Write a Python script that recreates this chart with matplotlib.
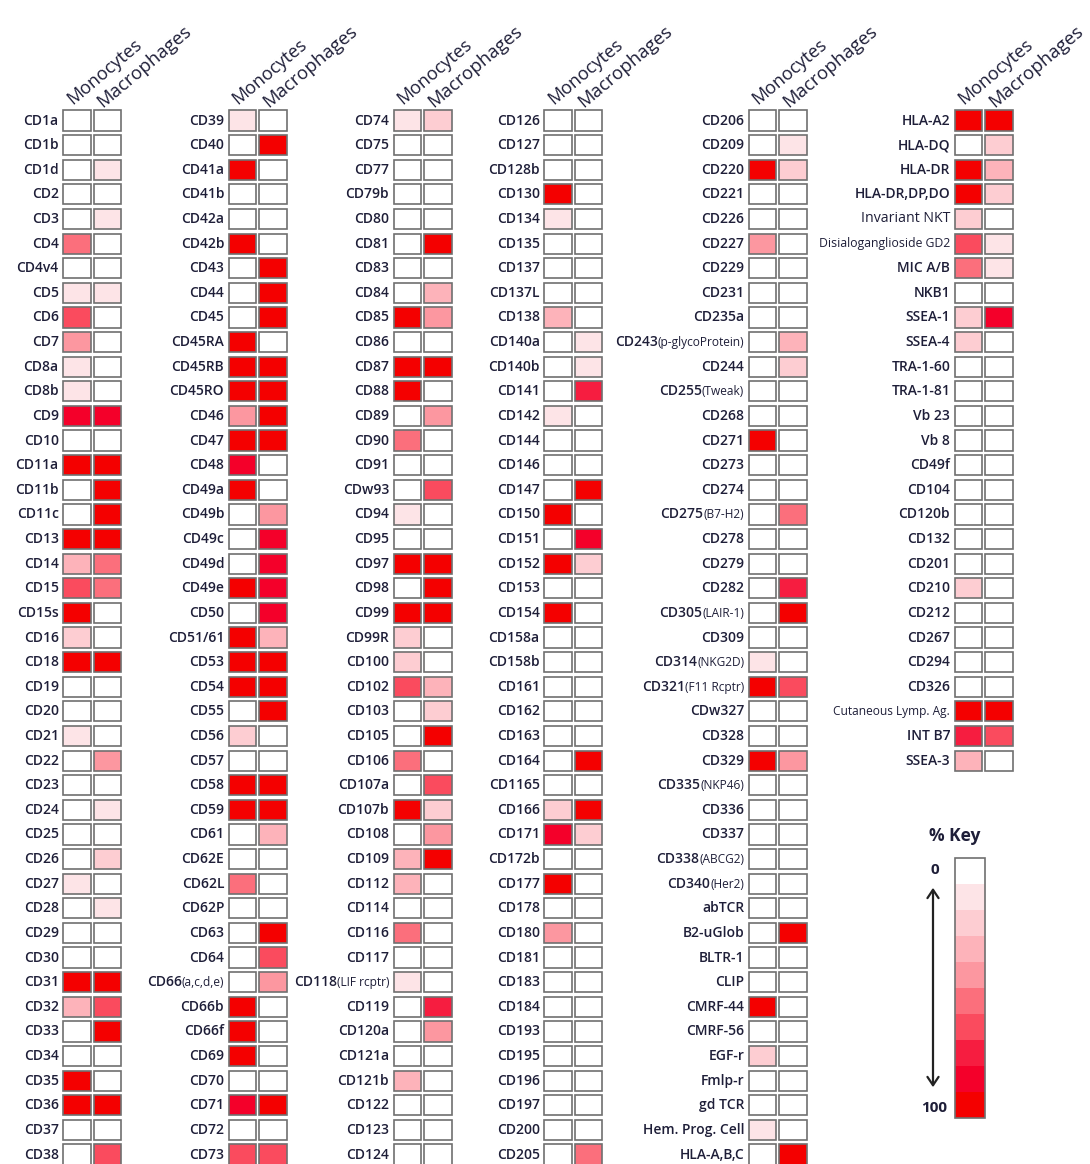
import numpy as np
import matplotlib
matplotlib.use('Agg')
import matplotlib.pyplot as plt
import matplotlib.cm as cm
from matplotlib.colors import ListedColormap, BoundaryNorm
from matplotlib.patches import Rectangle, FancyArrowPatch
from matplotlib.offsetbox import TextArea, HPacker, AnnotationBbox

plt.rcParams['font.family'] = ['Open Sans', 'DejaVu Sans']

# % of cells positive for each marker (Monocytes / Macrophages)
labels_1 = ['CD1a', 'CD1b', 'CD1d', 'CD2', 'CD3', 'CD4', 'CD4v4', 'CD5', 'CD6', 'CD7',
            'CD8a', 'CD8b', 'CD9', 'CD10', 'CD11a', 'CD11b', 'CD11c', 'CD13', 'CD14', 'CD15',
            'CD15s', 'CD16', 'CD18', 'CD19', 'CD20', 'CD21', 'CD22', 'CD23', 'CD24', 'CD25',
            'CD26', 'CD27', 'CD28', 'CD29', 'CD30', 'CD31', 'CD32', 'CD33', 'CD34', 'CD35',
            'CD36', 'CD37', 'CD38']
mono_1 = [0, 0, 0, 0, 0, 50, 0, 10, 60, 40,
          10, 10, 80, 0, 100, 0, 0, 100, 30, 60,
          100, 20, 100, 0, 0, 10, 0, 0, 0, 0,
          0, 10, 0, 0, 0, 100, 30, 0, 0, 100,
          100, 0, 0]
macro_1 = [0, 0, 10, 0, 10, 0, 0, 10, 0, 0,
           0, 0, 80, 0, 100, 100, 100, 100, 50, 50,
           0, 0, 100, 0, 0, 0, 40, 0, 10, 0,
           20, 0, 10, 0, 0, 100, 60, 100, 0, 0,
           100, 0, 60]

labels_2 = ['CD39', 'CD40', 'CD41a', 'CD41b', 'CD42a', 'CD42b', 'CD43', 'CD44', 'CD45', 'CD45RA',
            'CD45RB', 'CD45RO', 'CD46', 'CD47', 'CD48', 'CD49a', 'CD49b', 'CD49c', 'CD49d', 'CD49e',
            'CD50', 'CD51/61', 'CD53', 'CD54', 'CD55', 'CD56', 'CD57', 'CD58', 'CD59', 'CD61',
            'CD62E', 'CD62L', 'CD62P', 'CD63', 'CD64', 'CD66(a,c,d,e)', 'CD66b', 'CD66f', 'CD69', 'CD70',
            'CD71', 'CD72', 'CD73']
mono_2 = [10, 0, 100, 0, 0, 100, 0, 0, 0, 100,
          100, 100, 40, 100, 80, 100, 0, 0, 0, 100,
          0, 100, 100, 100, 0, 20, 0, 100, 100, 0,
          0, 50, 0, 0, 0, 0, 100, 100, 100, 0,
          80, 0, 60]
macro_2 = [0, 100, 0, 0, 0, 0, 100, 100, 100, 0,
           100, 100, 100, 100, 0, 0, 40, 80, 80, 80,
           80, 30, 100, 100, 100, 0, 0, 100, 100, 30,
           0, 0, 0, 100, 60, 40, 0, 0, 0, 0,
           100, 0, 60]

labels_3 = ['CD74', 'CD75', 'CD77', 'CD79b', 'CD80', 'CD81', 'CD83', 'CD84', 'CD85', 'CD86',
            'CD87', 'CD88', 'CD89', 'CD90', 'CD91', 'CDw93', 'CD94', 'CD95', 'CD97', 'CD98',
            'CD99', 'CD99R', 'CD100', 'CD102', 'CD103', 'CD105', 'CD106', 'CD107a', 'CD107b', 'CD108',
            'CD109', 'CD112', 'CD114', 'CD116', 'CD117', 'CD118(LIF rcptr)', 'CD119', 'CD120a', 'CD121a', 'CD121b',
            'CD122', 'CD123', 'CD124']
mono_3 = [10, 0, 0, 0, 0, 0, 0, 0, 100, 0,
          100, 100, 0, 50, 0, 0, 10, 0, 100, 0,
          100, 20, 20, 60, 0, 0, 50, 0, 100, 0,
          30, 30, 0, 50, 0, 10, 0, 0, 0, 30,
          0, 0, 0]
macro_3 = [20, 0, 0, 0, 0, 100, 0, 30, 40, 0,
           100, 0, 40, 0, 0, 60, 0, 0, 100, 100,
           100, 0, 0, 30, 20, 100, 0, 60, 20, 40,
           100, 0, 0, 0, 0, 0, 70, 40, 0, 0,
           0, 0, 0]

labels_4 = ['CD126', 'CD127', 'CD128b', 'CD130', 'CD134', 'CD135', 'CD137', 'CD137L', 'CD138', 'CD140a',
            'CD140b', 'CD141', 'CD142', 'CD144', 'CD146', 'CD147', 'CD150', 'CD151', 'CD152', 'CD153',
            'CD154', 'CD158a', 'CD158b', 'CD161', 'CD162', 'CD163', 'CD164', 'CD1165', 'CD166', 'CD171',
            'CD172b', 'CD177', 'CD178', 'CD180', 'CD181', 'CD183', 'CD184', 'CD193', 'CD195', 'CD196',
            'CD197', 'CD200', 'CD205']
mono_4 = [0, 0, 0, 100, 10, 0, 0, 0, 30, 0,
          0, 0, 10, 0, 0, 0, 100, 0, 100, 0,
          100, 0, 0, 0, 0, 0, 0, 0, 20, 80,
          0, 100, 0, 40, 0, 0, 0, 0, 0, 0,
          0, 0, 0]
macro_4 = [0, 0, 0, 0, 0, 0, 0, 0, 0, 10,
           10, 70, 0, 0, 0, 100, 0, 80, 20, 0,
           0, 0, 0, 0, 0, 0, 100, 0, 100, 20,
           0, 0, 0, 0, 0, 0, 0, 0, 0, 0,
           0, 0, 50]

labels_5 = ['CD206', 'CD209', 'CD220', 'CD221', 'CD226', 'CD227', 'CD229', 'CD231', 'CD235a',
            'CD243(p-glycoProtein)', 'CD244', 'CD255(Tweak)', 'CD268', 'CD271', 'CD273', 'CD274',
            'CD275(B7-H2)', 'CD278', 'CD279', 'CD282', 'CD305(LAIR-1)', 'CD309', 'CD314(NKG2D)',
            'CD321(F11 Rcptr)', 'CDw327', 'CD328', 'CD329', 'CD335(NKP46)', 'CD336', 'CD337',
            'CD338(ABCG2)', 'CD340(Her2)', 'abTCR', 'B2-uGlob', 'BLTR-1', 'CLIP', 'CMRF-44',
            'CMRF-56', 'EGF-r', 'Fmlp-r', 'gd TCR', 'Hem. Prog. Cell', 'HLA-A,B,C']
mono_5 = [0, 0, 100, 0, 0, 40, 0, 0, 0, 0,
          0, 0, 0, 100, 0, 0, 0, 0, 0, 0,
          0, 0, 10, 100, 0, 0, 100, 0, 0, 0,
          0, 0, 0, 0, 0, 0, 100, 0, 20, 0,
          0, 10, 0]
macro_5 = [0, 10, 20, 0, 0, 0, 0, 0, 0, 30,
           20, 0, 0, 0, 0, 0, 50, 0, 0, 70,
           100, 0, 0, 60, 0, 0, 40, 0, 0, 0,
           0, 0, 0, 100, 0, 0, 0, 0, 0, 0,
           0, 0, 100]

labels_6 = ['HLA-A2', 'HLA-DQ', 'HLA-DR', 'HLA-DR,DP,DO', 'Invariant NKT', 'Disialoganglioside GD2',
            'MIC A/B', 'NKB1', 'SSEA-1', 'SSEA-4', 'TRA-1-60', 'TRA-1-81', 'Vb 23', 'Vb 8',
            'CD49f', 'CD104', 'CD120b', 'CD132', 'CD201', 'CD210', 'CD212', 'CD267', 'CD294',
            'CD326', 'Cutaneous Lymp. Ag.', 'INT B7', 'SSEA-3']
mono_6 = [100, 0, 100, 100, 20, 60, 50, 0, 20, 20,
          0, 0, 0, 0, 0, 0, 0, 0, 0, 20,
          0, 0, 0, 0, 100, 70, 30]
macro_6 = [100, 20, 30, 20, 0, 10, 10, 0, 80, 0,
           0, 0, 0, 0, 0, 0, 0, 0, 0, 0,
           0, 0, 0, 0, 100, 60, 0]

# long names set in a lighter, smaller face
small_labels = {'Invariant NKT': 10.2, 'Disialoganglioside GD2': 8.8, 'Cutaneous Lymp. Ag.': 8.6}

key_colors = ['#ffffff', '#fde4e7', '#fdcdd2', '#fdb3ba', '#fc97a0',
              '#fb6f7c', '#fa4b5e', '#f61d40', '#f4002a', '#f40000']
cmap = ListedColormap(key_colors)
norm = BoundaryNorm(np.linspace(0, 100, 11), cmap.N, clip=True)

W, H = 1090, 1164
ROW_H = 24.62
COL_W = 30.5
FIRST_ROW = 120.5
N_ROWS = 43
TXT = '#1e1e38'
FS = 10

fig = plt.figure(figsize=(W / 100, H / 100), dpi=100)


def draw_label(ax, text, row):
    x = -0.6
    if text in small_labels:
        ax.text(x, row, text, ha='right', va='center', fontsize=small_labels[text], color=TXT)
    elif '(' in text:
        # marker name with a smaller bracketed alias
        head, tail = text.split('(', 1)
        box = HPacker(children=[TextArea(head, textprops=dict(fontsize=FS, fontweight='semibold', color=TXT)),
                                TextArea('(' + tail, textprops=dict(fontsize=8.6, color=TXT))],
                      align='baseline', pad=0, sep=0)
        ab = AnnotationBbox(box, (x, row), xycoords='data', box_alignment=(1, 0.5),
                            frameon=False, pad=0, annotation_clip=False)
        ax.add_artist(ab)
    else:
        ax.text(x, row, text, ha='right', va='center', fontsize=FS, fontweight='semibold', color=TXT)


def add_panel(mono_x, labels, mono, macro):
    left = (mono_x - 0.5 * COL_W) / W
    top = FIRST_ROW - 0.5 * ROW_H
    bottom = 1 - (top + N_ROWS * ROW_H) / H
    ax = fig.add_axes([left, bottom, 2 * COL_W / W, N_ROWS * ROW_H / H])
    ax.set_xlim(-0.5, 1.5)
    ax.set_ylim(N_ROWS - 0.5, -0.5)
    ax.axis('off')
    for row, name in enumerate(labels):
        for col, val in enumerate([mono[row], macro[row]]):
            ax.add_patch(Rectangle((col - 0.45, row - 0.41), 0.9, 0.82,
                                   facecolor=cmap(norm(val)), edgecolor='#707070', lw=1.2))
        draw_label(ax, name, row)
    ax.text(-0.15, -0.62, 'Monocytes', rotation=40, rotation_mode='anchor',
            ha='left', va='baseline', fontsize=13, color=TXT)
    ax.text(0.85, -0.5, 'Macrophages', rotation=40, rotation_mode='anchor',
            ha='left', va='baseline', fontsize=13.3, color=TXT)
    return ax


add_panel(77, labels_1, mono_1, macro_1)
add_panel(242.5, labels_2, mono_2, macro_2)
add_panel(407.5, labels_3, mono_3, macro_3)
add_panel(558, labels_4, mono_4, macro_4)
add_panel(762.5, labels_5, mono_5, macro_5)
add_panel(968.5, labels_6, mono_6, macro_6)

# colour key
cax = fig.add_axes([955 / W, 1 - 1118 / H, 30 / W, 260 / H])
cb = fig.colorbar(cm.ScalarMappable(norm=norm, cmap=cmap), cax=cax, orientation='vertical')
cb.set_ticks([])
cb.minorticks_off()
cax.tick_params(which='both', length=0, labelright=False)
cb.outline.set_edgecolor('#707070')
cb.outline.set_linewidth(1.2)
cax.invert_yaxis()

fig.text(955 / W, 1 - 836 / H, '% Key', ha='center', va='center', fontsize=12.5,
         fontweight='bold', color=TXT)
fig.text(935 / W, 1 - 870 / H, '0', ha='center', va='center', fontsize=11,
         fontweight='bold', color=TXT)
fig.text(947 / W, 1 - 1108 / H, '100', ha='right', va='center', fontsize=11,
         fontweight='bold', color=TXT)
fig.add_artist(FancyArrowPatch(
    (933 / W, 1 - 885 / H), (933 / W, 1 - 1090 / H), transform=fig.transFigure,
    arrowstyle='<->,head_length=6,head_width=4', lw=1.6, color='#222222'))

fig.savefig('out.png', dpi=100, facecolor='white')
